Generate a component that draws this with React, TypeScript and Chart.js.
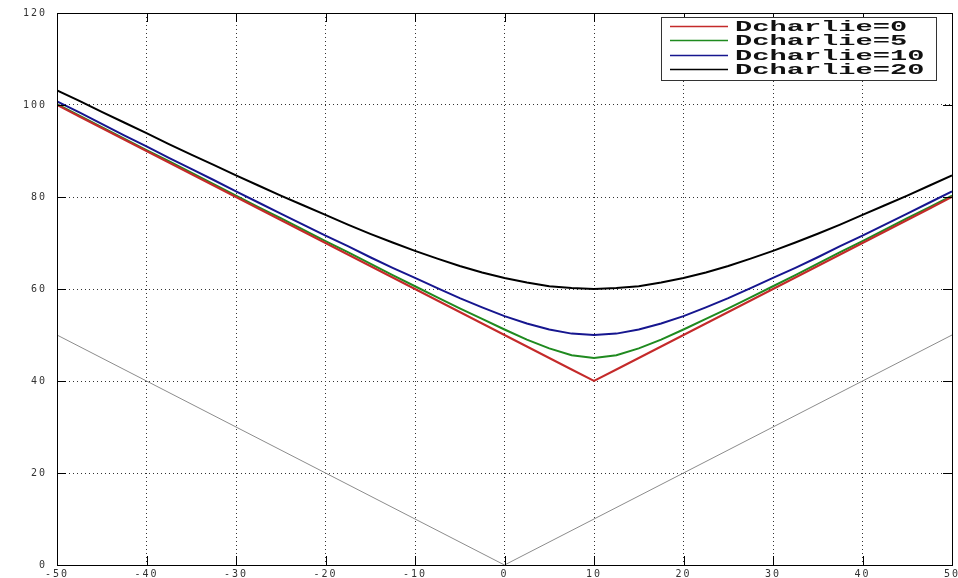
import React, { useEffect, useRef } from "react";
import { Chart, registerables } from "chart.js";
Chart.register(...registerables);

const xValues = [
  -50, -47.5, -45, -42.5, -40, -37.5, -35, -32.5, -30, -27.5, -25, -22.5, -20, -17.5, -15, -12.5, -10, -7.5, -5, -2.5,
  0, 2.5, 5, 7.5, 10, 12.5, 15, 17.5, 20, 22.5, 25, 27.5, 30, 32.5, 35, 37.5, 40, 42.5, 45, 47.5, 50,
];
const dcharlie0 = [
  100, 97.5, 95, 92.5, 90, 87.5, 85, 82.5, 80, 77.5, 75, 72.5, 70, 67.5, 65, 62.5, 60, 57.5, 55, 52.5,
  50, 47.5, 45, 42.5, 40, 42.5, 45, 47.5, 50, 52.5, 55, 57.5, 60, 62.5, 65, 67.5, 70, 72.5, 75, 77.5, 80,
];
const dcharlie5 = [
  100.2, 97.7, 95.2, 92.7, 90.2, 87.8, 85.3, 82.8, 80.3, 77.8, 75.4, 72.9, 70.4, 68.0, 65.5, 63.0, 60.6, 58.2, 55.8, 53.5,
  51.2, 49.0, 47.1, 45.6, 45.0, 45.6, 47.1, 49.0, 51.2, 53.5, 55.8, 58.2, 60.6, 63.0, 65.5, 68.0, 70.4, 72.9, 75.4, 77.8, 80.3,
];
const dcharlie10 = [
  100.8, 98.4, 95.9, 93.4, 91.0, 88.5, 86.1, 83.7, 81.2, 78.8, 76.4, 74.0, 71.6, 69.3, 66.9, 64.6, 62.4, 60.2, 58.0, 56.0,
  54.1, 52.5, 51.2, 50.3, 50.0, 50.3, 51.2, 52.5, 54.1, 56.0, 58.0, 60.2, 62.4, 64.6, 66.9, 69.3, 71.6, 74.0, 76.4, 78.8, 81.2,
];
const dcharlie20 = [
  103.2, 100.9, 98.5, 96.2, 93.9, 91.5, 89.2, 87.0, 84.7, 82.5, 80.3, 78.2, 76.1, 74.0, 72.0, 70.1, 68.3, 66.6, 65.0, 63.6,
  62.4, 61.4, 60.6, 60.2, 60.0, 60.2, 60.6, 61.4, 62.4, 63.6, 65.0, 66.6, 68.3, 70.1, 72.0, 74.0, 76.1, 78.2, 80.3, 82.5, 84.7,
];
const guideX = [-50, 0, 50];
const guideY = [50, 0, 50];

const legendLabels = ["Dcharlie=0", "Dcharlie=5", "Dcharlie=10", "Dcharlie=20"];
const xTickValues = [-50, -40, -30, -20, -10, 0, 10, 20, 30, 40, 50];
const yTickValues = [0, 20, 40, 60, 80, 100, 120];

const seriesColors = ["#c42a2a", "#1f8a1f", "#16168f", "#000000"];

const toPoints = (xs: number[], ys: number[]) => xs.map((x, i) => ({ x, y: ys[i] }));

const framePlugin = {
  id: "matlabFrame",
  beforeDraw(chart: any) {
    const ctx = chart.ctx;
    ctx.save();
    ctx.fillStyle = "#ffffff";
    ctx.fillRect(0, 0, chart.width, chart.height);
    ctx.restore();
    (ctx as any).letterSpacing = "2px";
  },
  afterDraw(chart: any) {
    const ctx = chart.ctx;
    const { left, right, top, bottom } = chart.chartArea;
    const xs = chart.scales.x;
    const ys = chart.scales.y;
    ctx.save();
    (ctx as any).letterSpacing = "0px";
    ctx.strokeStyle = "#000";
    ctx.lineWidth = 1;
    ctx.setLineDash([]);
    ctx.beginPath();
    const tl = 9;
    xTickValues.forEach((v) => {
      const px = Math.round(xs.getPixelForValue(v)) + 0.5;
      ctx.moveTo(px, bottom);
      ctx.lineTo(px, bottom - tl);
      ctx.moveTo(px, top);
      ctx.lineTo(px, top + tl);
    });
    yTickValues.forEach((v) => {
      const py = Math.round(ys.getPixelForValue(v)) + 0.5;
      ctx.moveTo(left, py);
      ctx.lineTo(left + tl, py);
      ctx.moveTo(right, py);
      ctx.lineTo(right - tl, py);
    });
    ctx.stroke();
    ctx.strokeRect(Math.round(left) + 0.5, Math.round(top) + 0.5, Math.round(right - left), Math.round(bottom - top));

    // legend
    const bx = 661, by = 17, bw = 275, bh = 63;
    ctx.fillStyle = "#ffffff";
    ctx.fillRect(bx, by, bw, bh);
    ctx.strokeStyle = "#333";
    ctx.strokeRect(bx + 0.5, by + 0.5, bw, bh);
    const rows = [26, 40, 55, 69];
    const sets = chart.data.datasets.slice(1);
    sets.forEach((ds: any, i: number) => {
      const y = rows[i];
      ctx.strokeStyle = ds.borderColor;
      ctx.lineWidth = 1.5;
      ctx.beginPath();
      ctx.moveTo(670, y + 0.5);
      ctx.lineTo(728, y + 0.5);
      ctx.stroke();
      ctx.save();
      ctx.translate(735, y);
      ctx.scale(2.05, 1);
      ctx.fillStyle = "#111";
      ctx.font = "bold 14px 'Liberation Mono', 'DejaVu Sans Mono', monospace";
      ctx.textBaseline = "middle";
      ctx.textAlign = "left";
      ctx.fillText(ds.label, 0, 1);
      ctx.restore();
    });
    ctx.restore();
  },
};

export default function App() {
  const canvasRef = useRef<HTMLCanvasElement | null>(null);
  useEffect(() => {
    const canvas = canvasRef.current;
    if (!canvas) return;
    const lineDs = (label: string, ys: number[], color: string) => ({
      label,
      data: toPoints(xValues, ys),
      borderColor: color,
      backgroundColor: color,
      borderWidth: 2,
      pointRadius: 0,
      tension: 0,
      fill: false,
    });
    const tickFont = { family: "'DejaVu Sans Mono', monospace", size: 10 };
    const chart = new Chart(canvas, {
      type: "line",
      data: {
        datasets: [
          {
            label: "guide",
            data: toPoints(guideX, guideY),
            borderColor: "#8c8c8c",
            backgroundColor: "#8c8c8c",
            borderWidth: 1,
            pointRadius: 0,
            tension: 0,
            fill: false,
          },
          lineDs(legendLabels[0], dcharlie0, seriesColors[0]),
          lineDs(legendLabels[1], dcharlie5, seriesColors[1]),
          lineDs(legendLabels[2], dcharlie10, seriesColors[2]),
          lineDs(legendLabels[3], dcharlie20, seriesColors[3]),
        ],
      },
      options: {
        responsive: false,
        animation: false,
        events: [],
        layout: { padding: { top: 13, right: 6, left: 0, bottom: 0 } },
        plugins: { legend: { display: false }, tooltip: { enabled: false } },
        scales: {
          x: {
            type: "linear",
            min: -50,
            max: 50,
            afterBuildTicks: (s: any) => {
              s.ticks = xTickValues.map((v) => ({ value: v }));
            },
            afterFit: (s: any) => {
              s.height = 13;
              s.paddingLeft = 0;
              s.paddingRight = 0;
            },
            grid: { color: "#333", lineWidth: 1, drawTicks: false },
            border: { display: false, dash: [1, 3] },
            ticks: {
              padding: 3,
              maxRotation: 0,
              autoSkip: false,
              color: "#333",
              font: tickFont,
            },
          },
          y: {
            type: "linear",
            min: 0,
            max: 120,
            afterBuildTicks: (s: any) => {
              s.ticks = yTickValues.map((v) => ({ value: v }));
            },
            afterFit: (s: any) => {
              s.width = 57;
              s.paddingTop = 0;
              s.paddingBottom = 0;
            },
            grid: { color: "#333", lineWidth: 1, drawTicks: false },
            border: { display: false, dash: [1, 3] },
            ticks: {
              padding: 10,
              autoSkip: false,
              color: "#333",
              font: tickFont,
            },
          },
        },
      },
      plugins: [framePlugin],
    } as any);
    return () => chart.destroy();
  }, []);
  return (
    <div style={{ position: "absolute", left: 0, top: 0, width: 958, height: 578, background: "#fff" }}>
      <canvas ref={canvasRef} width={958} height={578} style={{ display: "block" }} />
    </div>
  );
}
